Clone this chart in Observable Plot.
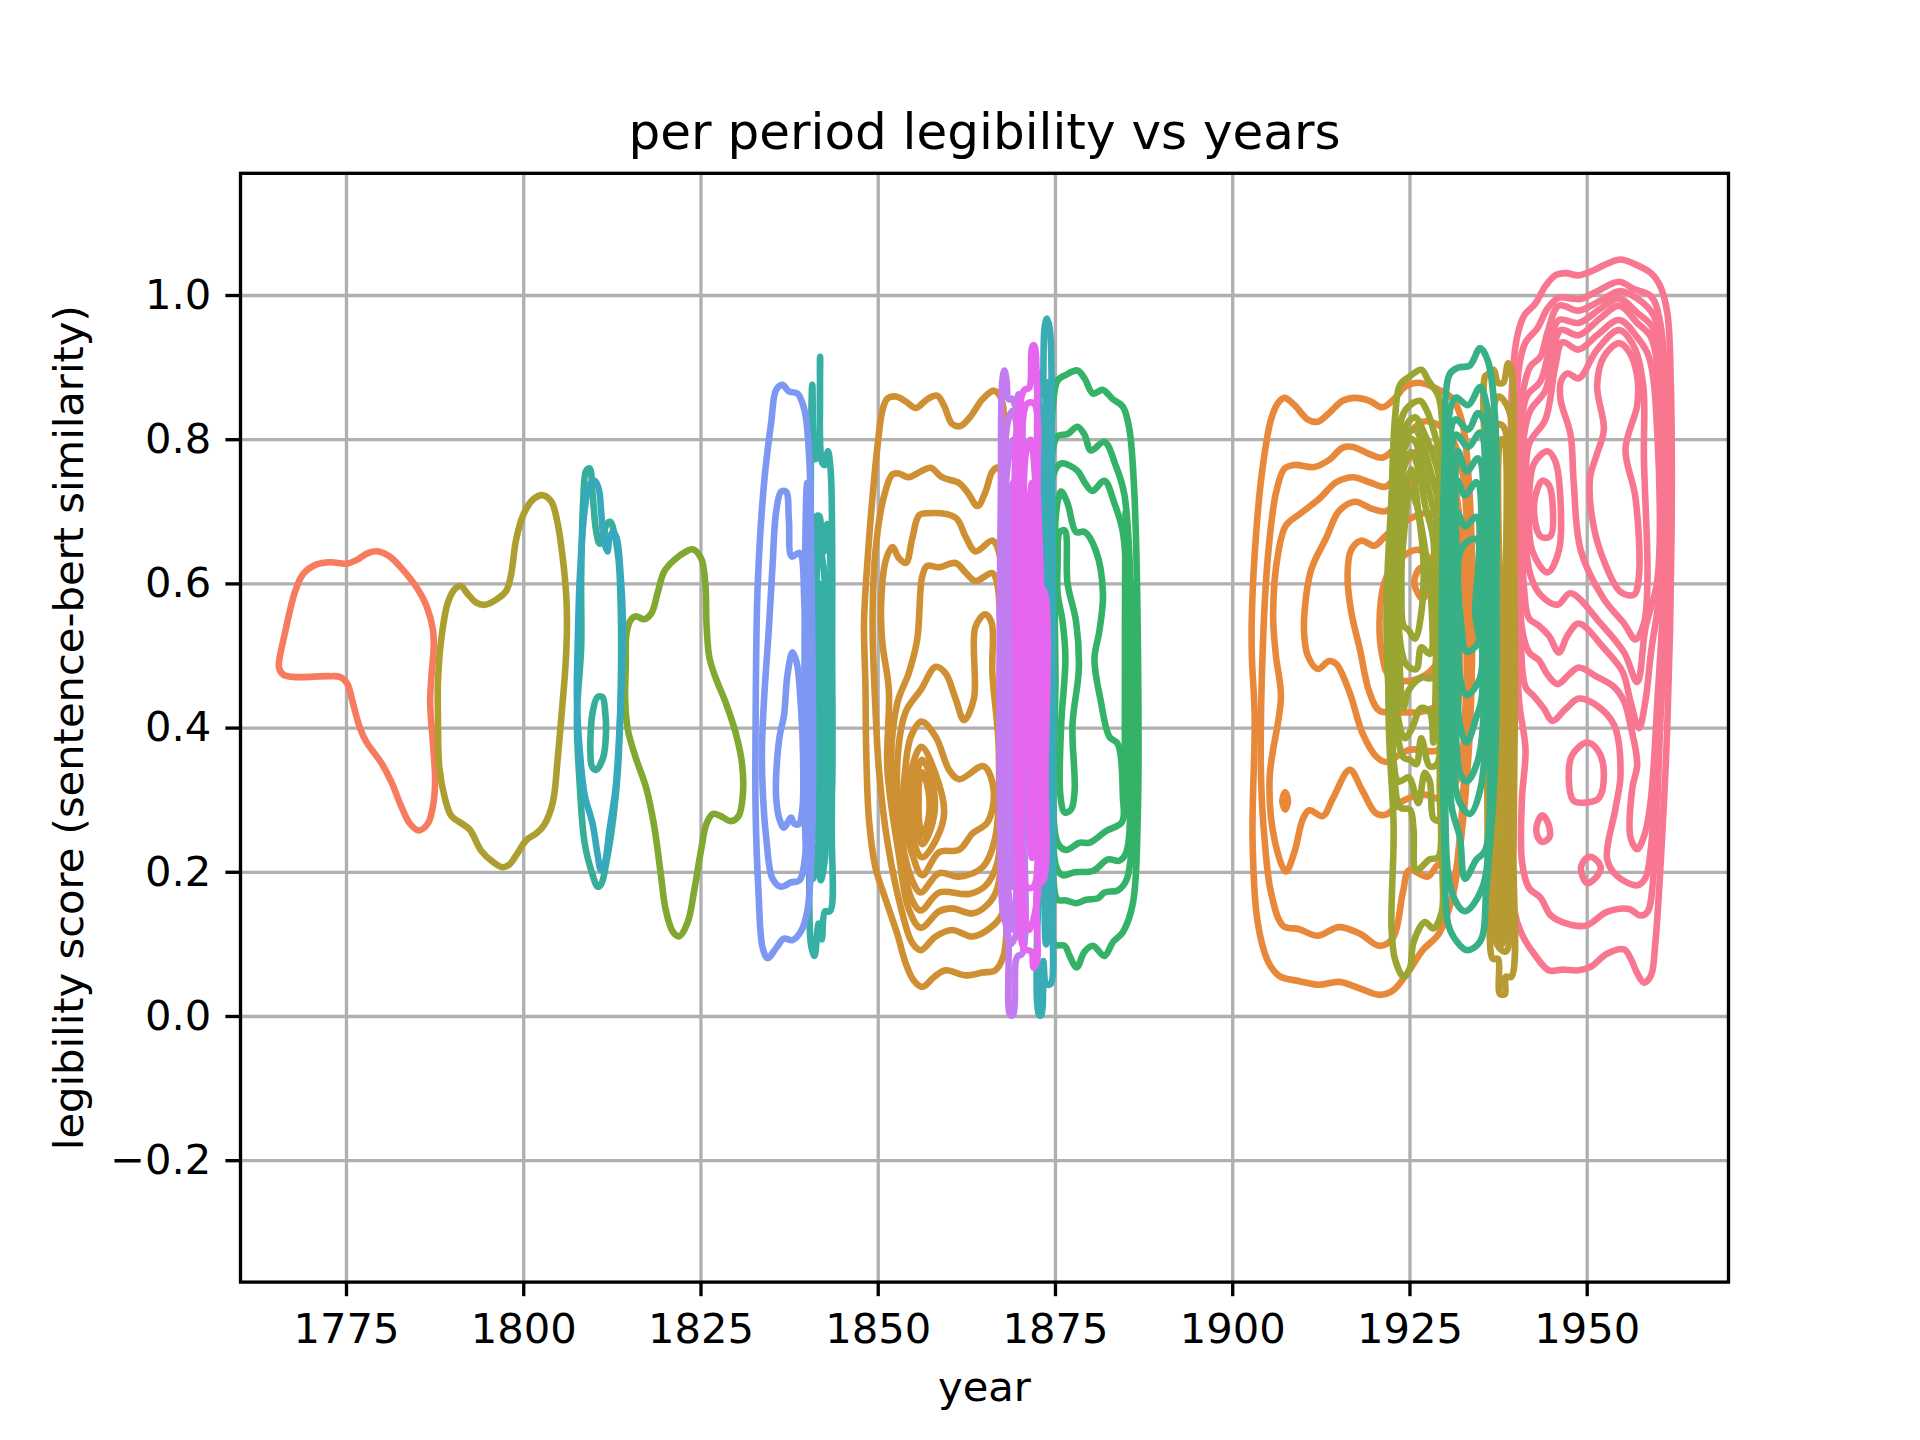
<!DOCTYPE html>
<html>
<head>
<meta charset="utf-8">
<script src="https://cdn.jsdelivr.net/npm/d3@7"></script>
<script src="https://cdn.jsdelivr.net/npm/@observablehq/plot@0.6"></script>
<style>html,body{margin:0;padding:0;background:#fff}</style>
</head>
<body>
<div id="chart"></div>
<script>
const titleText = ["per period legibility vs years"];
const xLabel = ["year"];
const yLabel = ["legibility score (sentence-bert similarity)"];
const xTicks = [1775, 1800, 1825, 1850, 1875, 1900, 1925, 1950];
const yTicks = [-0.2, 0, 0.2, 0.4, 0.6, 0.8, 1.0];

// each period: list of closed KDE contours as [year, score]
const p01 = [[[1765.5,.493],[1766.3,.531],[1767.7,.588],[1768.9,.614],[1770.8,.627],[1772.7,.630],[1775,.628],[1776.4,.633],[1778.1,.643],[1779.5,.645],[1781.1,.638],[1783,.619],[1784.9,.595],[1786.3,.569],[1787.2,.536],[1787.3,.512],[1787,.474],[1786.8,.435],[1787.2,.378],[1787.5,.326],[1787.2,.292],[1786.5,.268],[1785.2,.258],[1783.9,.268],[1782.7,.292],[1781.3,.326],[1779.9,.352],[1777.8,.381],[1776.9,.400],[1775.9,.435],[1775.1,.462],[1774.1,.471],[1772.7,.472],[1767.5,.471],[1766.1,.474],[1765.5,.483]]];

const p02 = [[[1787.9,.416],[1787.9,.464],[1788.4,.526],[1789.3,.574],[1790.3,.593],[1791.1,.597],[1792.1,.586],[1793.3,.574],[1794.5,.571],[1796.1,.578],[1797.5,.590],[1798.2,.612],[1798.9,.660],[1799.9,.695],[1801.3,.717],[1802.7,.723],[1803.9,.714],[1804.8,.683],[1805.5,.636],[1806,.583],[1806.1,.545],[1805.9,.488],[1805.4,.426],[1804.8,.359],[1804.1,.297],[1802.9,.266],[1801.8,.254],[1800.4,.245],[1798.9,.223],[1798,.211],[1797,.207],[1795.7,.214],[1794,.230],[1792.4,.259],[1791.2,.268],[1789.8,.278],[1788.9,.302],[1788.1,.345]]];

const p03 = [
[[1808.1,.512],[1808.1,.607],[1808.4,.717],[1808.8,.757],[1809.3,.760],[1809.7,.726],[1810.2,.674],[1810.7,.656],[1811.2,.660],[1811.6,.681],[1812.2,.686],[1812.8,.669],[1813.4,.631],[1813.7,.559],[1813.7,.464],[1813.3,.345],[1812.6,.273],[1811.6,.211],[1810.9,.183],[1810.4,.180],[1809.7,.197],[1808.6,.240],[1807.9,.321],[1807.5,.416]],
[[1809.4,.383],[1809.7,.421],[1810.4,.443],[1811.1,.443],[1811.5,.421],[1811.6,.393],[1811.2,.359],[1810.2,.342],[1809.6,.347],[1809.4,.369]]];

const p04 = [[[1807.6,.512],[1807.9,.607],[1808.6,.703],[1809.3,.738],[1810,.743],[1810.6,.731],[1810.9,.703],[1811.3,.660],[1811.8,.645],[1812.1,.664],[1812.6,.672],[1813.1,.664],[1813.7,.607],[1814,.536],[1813.7,.440],[1813,.321],[1812.1,.259],[1811.4,.211],[1810.9,.203],[1810.4,.226],[1809.7,.268],[1808.6,.307],[1807.9,.369],[1807.5,.440]]];

const p05 = [[[1814.4,.488],[1814.5,.531],[1815.1,.550],[1815.8,.555],[1817,.551],[1818,.559],[1818.9,.588],[1819.8,.617],[1821.2,.633],[1822.9,.645],[1823.8,.648],[1825,.636],[1825.6,.602],[1825.8,.540],[1826.2,.497],[1827.1,.469],[1828.5,.435],[1829.9,.393],[1830.8,.350],[1830.9,.307],[1830.3,.278],[1829.2,.271],[1827.8,.278],[1826.7,.281],[1825.8,.268],[1825,.230],[1824.1,.178],[1823.1,.130],[1821.9,.111],[1821,.118],[1820,.149],[1819.4,.192],[1818.4,.264],[1817.3,.316],[1815.8,.359],[1814.7,.397],[1814.3,.440]]];

const p06 = [
[[1832.7,.400],[1833,.598],[1833.9,.740],[1834.9,.824],[1835.6,.869],[1836.5,.876],[1837.4,.867],[1838.6,.864],[1839.6,.841],[1840.3,.768],[1840.6,.598],[1840.8,.429],[1840.7,.259],[1840,.146],[1839.1,.118],[1837.9,.106],[1836.7,.108],[1835.6,.095],[1834.4,.081],[1833.7,.095],[1833.1,.175],[1832.7,.288]],
[[1833.6,.372],[1833.9,.440],[1834.6,.542],[1835.1,.627],[1835.6,.700],[1836.3,.728],[1837,.728],[1837.4,.689],[1837.8,.638],[1838.9,.643],[1839.6,.570],[1840,.457],[1840.4,.344],[1839.8,.231],[1838.9,.189],[1837.7,.186],[1836.3,.180],[1835.1,.191],[1834.2,.248],[1833.7,.316]],
[[1835.6,.333],[1836.1,.389],[1836.7,.417],[1837.2,.474],[1837.9,.505],[1838.5,.491],[1839.1,.429],[1839.4,.361],[1839.3,.288],[1838.8,.267],[1838.1,.268],[1837.7,.276],[1836.7,.262],[1836,.276],[1835.6,.304]],
[[1839.6,.48],[1840,.74],[1840.3,.72],[1840.5,.48],[1840.4,.24],[1840,.2],[1839.7,.26]]];

const p07 = [
[[1840.4,.542],[1840.5,.768],[1840.7,.876],[1841.1,.773],[1841.5,.779],[1841.8,.915],[1842.1,.768],[1842.5,.765],[1842.9,.784],[1843.3,.756],[1843.5,.485],[1843.45,.259],[1843.2,.146],[1842.5,.146],[1842.04,.107],[1841.6,.129],[1841,.084],[1840.5,.101],[1840.3,.259]],
[[1841,.655],[1841.3,.694],[1841.7,.694],[1842.04,.643],[1842.5,.649],[1842.8,.683],[1843.2,.643],[1843.45,.485],[1843.3,.288],[1842.7,.265],[1842.5,.220],[1841.9,.189],[1841.4,.237],[1840.8,.191],[1840.5,.316],[1840.6,.542]],
[[1840.95,.542],[1841.4,.636],[1842.1,.630],[1842.7,.542],[1843,.400],[1842.7,.293],[1841.9,.265],[1841.3,.293],[1841,.400]],
[[1841.3,.55],[1841.5,.68],[1841.9,.65],[1842.5,.6],[1842.6,.4],[1842.4,.26],[1841.9,.22],[1841.4,.27]],
[[1841.6,.55],[1842,.6],[1842.1,.4],[1841.9,.28],[1841.6,.33]]];

const p08 = [
[[1848.0,.546],[1848.5,.634],[1849.2,.721],[1849.9,.791],[1850.6,.841],[1851.3,.857],[1852.5,.860],[1853.9,.853],[1855.3,.844],[1856.9,.856],[1858.3,.861],[1859.3,.847],[1860.4,.822],[1861.6,.819],[1863,.832],[1864.7,.856],[1866.3,.868],[1867.3,.858],[1868,.721],[1868.2,.429],[1868.2,.196],[1867.7,.085],[1866.5,.064],[1864.7,.061],[1862.3,.057],[1859.5,.064],[1857.9,.055],[1856.2,.041],[1855,.050],[1853.9,.073],[1852.7,.114],[1851.3,.155],[1849.6,.207],[1848.7,.272],[1848.3,.371],[1848.2,.458]],
[[1849.2,.546],[1849.6,.645],[1850.8,.721],[1852,.752],[1852.9,.753],[1854.3,.748],[1856,.756],[1857.4,.761],[1859,.748],[1861.4,.740],[1862.6,.727],[1864,.708],[1865.1,.727],[1866.1,.756],[1866.9,.761],[1867.9,.721],[1868.2,.488],[1868.2,.225],[1867.5,.143],[1865.8,.123],[1863.3,.111],[1860.4,.120],[1858.1,.111],[1856,.092],[1854.8,.102],[1853.4,.143],[1851.3,.242],[1850.1,.342],[1849.6,.429]],
[[1850.4,.569],[1851.1,.634],[1852,.651],[1852.9,.636],[1853.9,.629],[1854.8,.663],[1855.75,.695],[1856.9,.698],[1860.9,.692],[1862.3,.666],[1863.7,.645],[1866.1,.660],[1867,.645],[1867.7,.546],[1867.7,.312],[1866.8,.178],[1865.4,.155],[1863.3,.143],[1860.4,.150],[1858.6,.146],[1856,.123],[1854.3,.149],[1852.9,.225],[1851.3,.342],[1851.5,.453],[1850.6,.517]],
[[1856.2,.610],[1856.9,.625],[1858.6,.623],[1860.9,.629],[1862.3,.616],[1863.7,.604],[1866.1,.615],[1866.8,.599],[1867.3,.488],[1867.3,.312],[1866.8,.213],[1865.1,.181],[1862.8,.170],[1858.6,.172],[1856,.147],[1854.8,.161],[1852.9,.242],[1851.8,.342],[1852.7,.435],[1854.3,.476],[1855.5,.523]],
[[1858.1,.485],[1856,.453],[1853.9,.423],[1852.7,.353],[1853.2,.254],[1855,.184],[1856,.172],[1858.6,.199],[1861.4,.194],[1864.7,.207],[1866.5,.248],[1867,.371],[1866.1,.476],[1866,.546],[1865.1,.558],[1863.7,.540],[1863.5,.441],[1862.1,.411],[1860.9,.441],[1859.5,.476]],
[[1856.1,.409],[1858.1,.388],[1860,.342],[1861.4,.329],[1864.9,.347],[1866.3,.312],[1865.4,.269],[1863.3,.254],[1861.4,.231],[1858.6,.228],[1856.2,.196],[1854.8,.225],[1853.5,.283],[1853.8,.342],[1854.6,.388]],
[[1856.1,.374],[1858.1,.336],[1859.3,.283],[1858.3,.248],[1856.2,.221],[1855,.242],[1854.3,.301],[1854.8,.347]],
[[1856.2,.356],[1857.4,.333],[1858,.295],[1857.4,.260],[1856.2,.239],[1855.3,.260],[1855,.295],[1855.4,.336]],
[[1856.2,.339],[1856.9,.321],[1857.25,.295],[1856.9,.266],[1856.2,.251],[1855.75,.272],[1855.7,.301],[1855.75,.324]]];

const p09 = [
[[1867.1,.470],[1867.3,.731],[1867.5,.882],[1867.8,.896],[1868.1,.882],[1868.4,.856],[1868.9,.857],[1869.4,.846],[1869.8,.863],[1870.2,.843],[1870.4,.601],[1870.4,.339],[1870.3,.087],[1869.7,.084],[1869.4,.077],[1869,.002],[1868.6,.002],[1868.3,.117],[1867.6,.143],[1867.2,.274]],
[[1867.6,.5],[1867.8,.78],[1868.4,.83],[1869,.84],[1869.7,.8],[1870.1,.5],[1870.1,.2],[1869.7,.12],[1868.6,.1],[1867.7,.2]],
[[1868,.5],[1868.1,.75],[1869,.8],[1869.6,.75],[1869.7,.45],[1869.6,.2],[1869,.12],[1868.2,.2]],
[[1868.6,.5],[1868.7,.72],[1869,.74],[1869.2,.7],[1869.2,.3],[1869,.18],[1868.7,.25]]];

const p10 = [
[[1869.4,.470],[1869.5,.810],[1870.6,.869],[1871.3,.872],[1871.7,.928],[1872,.931],[1872.4,.872],[1872.7,.601],[1873.5,.587],[1873.6,.339],[1873.3,.189],[1872.5,.182],[1872.4,.077],[1871.9,.068],[1871.6,.090],[1870.6,.094],[1869.9,.143],[1869.5,.339]],
[[1870.05,.5],[1870.2,.8],[1871,.85],[1872,.85],[1872.5,.72],[1873,.58],[1873.1,.3],[1872.4,.16],[1871.3,.12],[1870.2,.18]],
[[1870.7,.5],[1870.8,.78],[1871.5,.8],[1872.1,.75],[1872.5,.55],[1872.55,.28],[1871.9,.18],[1870.9,.18]],
[[1871.3,.5],[1871.4,.72],[1871.7,.74],[1871.95,.6],[1872,.3],[1871.7,.22],[1871.4,.25]]];

const p11 = [
[[1873,.601],[1872.8,.892],[1873.2,.862],[1873.45,.954],[1873.8,.968],[1874.2,.954],[1874.5,.797],[1874.7,.470],[1874.6,.143],[1874.3,.045],[1873.7,.045],[1873.3,.077],[1873,.002],[1872.7,.002],[1872.4,.110],[1872.75,.182],[1873,.339]],
[[1873.5,.5],[1873.6,.85],[1874,.88],[1874.4,.7],[1874.5,.3],[1874.2,.12],[1873.7,.1],[1873.5,.25]],
[[1873.9,.5],[1874,.7],[1874.1,.5],[1874.1,.25],[1873.95,.2]]];

const p12 = [
[[1874.6,.843],[1875.3,.882],[1876.5,.890],[1878.1,.896],[1879.1,.885],[1880.3,.864],[1881.7,.869],[1883.1,.856],[1884.5,.846],[1885.4,.816],[1886.1,.731],[1886.6,.535],[1886.6,.274],[1885.9,.156],[1884.5,.117],[1883.1,.103],[1881.9,.084],[1880.3,.098],[1879.1,.090],[1878,.068],[1877,.084],[1876.3,.098],[1874.9,.100],[1874.4,.143]],
[[1874.6,.784],[1875.3,.805],[1876.7,.808],[1878.1,.818],[1879.1,.807],[1880,.785],[1881.9,.797],[1883.5,.764],[1884.7,.725],[1885.6,.601],[1886.1,.404],[1885.9,.254],[1885,.189],[1883.8,.175],[1881.9,.172],[1881,.164],[1879.3,.162],[1878,.157],[1876.5,.161],[1875.3,.162],[1874.7,.189],[1874.5,.470]],
[[1874.7,.751],[1875.8,.767],[1878.1,.757],[1879.1,.741],[1880.2,.729],[1881.9,.743],[1883.3,.712],[1884.5,.672],[1885.3,.535],[1885.5,.372],[1885,.228],[1884,.216],[1882.4,.218],[1880.3,.202],[1877.7,.200],[1876,.196],[1875.1,.208],[1874.9,.470]],
[[1875.1,.699],[1875.8,.728],[1876.7,.712],[1877.9,.672],[1879.1,.672],[1880.7,.646],[1881.7,.587],[1881.2,.535],[1880.5,.496],[1881.4,.437],[1882.6,.388],[1883.8,.378],[1884.5,.306],[1884.4,.270],[1882.1,.257],[1879.8,.241],[1878.4,.241],[1876.5,.231],[1875.3,.241],[1875,.470]],
[[1875.3,.627],[1875.6,.672],[1876.3,.674],[1876.7,.601],[1877.9,.548],[1878.3,.483],[1877.4,.404],[1877.7,.313],[1877.2,.287],[1876.3,.283],[1875.7,.306],[1875.8,.404],[1876.4,.496],[1876,.548],[1875.3,.587]],
[[1884.9,.7],[1885.1,.5],[1885.1,.3],[1884.9,.28],[1884.8,.5]]];

const p13 = [
[[1902.7,.557],[1903.3,.670],[1904.2,.760],[1905.4,.828],[1906.4,.851],[1907.3,.858],[1908.7,.848],[1910.6,.828],[1912,.825],[1913.6,.837],[1915.5,.854],[1917.2,.858],[1919.3,.854],[1921.1,.845],[1922.8,.857],[1924.4,.874],[1926.3,.879],[1928.7,.871],[1931,.857],[1932.4,.823],[1933.4,.726],[1933.8,.557],[1933.4,.387],[1932.2,.245],[1931,.166],[1929.1,.115],[1926.8,.092],[1924.9,.064],[1922.6,.036],[1920.7,.030],[1917.9,.039],[1915,.048],[1912.2,.044],[1909.4,.049],[1906.6,.056],[1905,.076],[1903.5,.132],[1902.8,.245],[1903.1,.415],[1902.7,.500]],
[[1904.2,.500],[1905,.642],[1906.1,.726],[1907.3,.760],[1908.7,.765],[1911.5,.762],[1913.6,.772],[1915.5,.789],[1917,.790],[1919.3,.780],[1921.1,.775],[1923,.789],[1926.8,.825],[1929.1,.820],[1931,.800],[1932.4,.755],[1933.1,.670],[1933.4,.557],[1932.9,.387],[1932,.245],[1931,.194],[1929.1,.211],[1927.5,.194],[1924.9,.203],[1924,.172],[1922.6,.109],[1920.7,.098],[1917.9,.115],[1915,.124],[1912,.112],[1909.4,.121],[1907.1,.126],[1905.4,.172],[1904.5,.245],[1904,.330]],
[[1905.7,.557],[1906.4,.642],[1907.5,.681],[1909.6,.698],[1912.2,.718],[1914.6,.741],[1917,.748],[1919.3,.741],[1921.6,.735],[1924.4,.769],[1926.8,.789],[1929.1,.783],[1931,.749],[1932.2,.670],[1932.9,.557],[1932.9,.443],[1931.7,.330],[1929.6,.302],[1926.8,.308],[1924,.299],[1921.6,.280],[1920.2,.282],[1918.3,.313],[1916.5,.342],[1914.1,.302],[1912.7,.278],[1910.8,.286],[1909.9,.274],[1908.7,.228],[1907.5,.201],[1905.9,.245],[1905.2,.330],[1906.8,.443],[1906.1,.500]],
[[1910.1,.557],[1911.05,.619],[1913.2,.664],[1915,.701],[1917.2,.714],[1919.7,.704],[1921.6,.701],[1924.4,.726],[1926.8,.749],[1930.1,.726],[1931.5,.642],[1932,.528],[1931.5,.415],[1929.1,.370],[1924.9,.370],[1921.6,.353],[1920.2,.361],[1918.3,.393],[1916.5,.449],[1914.6,.489],[1913.6,.493],[1912,.482],[1910.6,.500],[1910.1,.528]],
[[1916.2,.613],[1916.7,.647],[1918.1,.660],[1920,.653],[1921.6,.667],[1924.4,.687],[1927.2,.698],[1930.1,.681],[1931,.613],[1931,.528],[1930.1,.443],[1927.2,.424],[1923,.422],[1920.7,.424],[1919.3,.449],[1917.9,.511],[1916.7,.562]],
[[1920.7,.545],[1921.4,.602],[1923,.630],[1926.3,.647],[1928.7,.613],[1929.1,.557],[1928.7,.489],[1925.4,.466],[1922.1,.472],[1921.1,.500]],
[[1925.6,.602],[1926.5,.622],[1927.7,.602],[1926.8,.579]],
[[1907.4,.311],[1907.8,.299],[1907.4,.287],[1907,.299]]];

const p14 = [
[[1922.4,.710],[1922.9,.831],[1923.6,.876],[1925,.888],[1926.6,.897],[1927.6,.882],[1929,.861],[1929.5,.831],[1929.6,.590],[1929.5,.350],[1929.6,.200],[1929.5,.146],[1928.3,.122],[1927.1,.131],[1925.5,.103],[1925,.067],[1924.1,.055],[1922.9,.079],[1922.4,.122],[1922.7,.260],[1922,.410]],
[[1922,.650],[1923.4,.813],[1924.5,.843],[1926.4,.854],[1927.4,.840],[1928.5,.807],[1929.3,.771],[1929.3,.530],[1929.2,.320],[1929,.221],[1927.8,.218],[1925.9,.203],[1925.5,.260],[1925,.287],[1923.6,.290],[1922.7,.350],[1921.7,.530]],
[[1922.2,.590],[1922.9,.741],[1924.1,.813],[1925.7,.831],[1927.1,.807],[1928.5,.771],[1929.1,.747],[1929.1,.470],[1929,.272],[1928.3,.275],[1927.8,.326],[1927.1,.338],[1926.2,.296],[1925.2,.326],[1924.8,.332],[1923.4,.326],[1922.4,.410]],
[[1922.4,.620],[1923.4,.771],[1924.5,.807],[1925.7,.814],[1927.1,.783],[1928.3,.741],[1929,.711],[1929,.500],[1928.8,.350],[1927.8,.347],[1926.6,.386],[1925.9,.350],[1925,.356],[1924.1,.359],[1922.75,.440]],
[[1922.9,.650],[1923.8,.771],[1925,.801],[1925.7,.798],[1926.9,.759],[1928.1,.711],[1928.8,.680],[1928.7,.500],[1928.3,.380],[1927.8,.422],[1926.6,.428],[1925.2,.398],[1924.3,.386],[1923.4,.410]],
[[1923.4,.650],[1924.1,.759],[1925.2,.783],[1926.2,.759],[1927.1,.711],[1928.3,.662],[1928.3,.590],[1928.2,.470],[1926.6,.470],[1924.8,.452],[1924.1,.428],[1923.4,.530]],
[[1923.8,.590],[1924.3,.723],[1925.2,.759],[1926.2,.699],[1926.9,.632],[1926.6,.560],[1925.7,.524],[1924.8,.536],[1924.1,.542]],
[[1923.4,.542],[1924.1,.662],[1925,.729],[1925.9,.711],[1927.1,.650],[1928,.578],[1927.8,.503],[1926.6,.512],[1925.9,.482],[1924.5,.488]]];

const p15 = [
[[1929.9,.771],[1930.6,.891],[1931.8,.900],[1933.45,.903],[1934.9,.927],[1936,.909],[1937,.831],[1937.2,.590],[1937,.350],[1935.8,.182],[1934.9,.104],[1933,.092],[1931.6,.104],[1930.4,.128],[1929.9,.230],[1929.5,.530]],
[[1931.4,.858],[1933.2,.848],[1934.9,.873],[1935.8,.849],[1936.5,.711],[1936.7,.470],[1936.3,.260],[1935.1,.176],[1932.75,.146],[1930.9,.173],[1929.9,.350],[1929.9,.650]],
[[1931.4,.828],[1933.2,.814],[1934.6,.837],[1935.6,.822],[1936.2,.650],[1936.3,.410],[1935.6,.230],[1934.4,.218],[1932.75,.191],[1932.05,.248],[1930.9,.290],[1930.4,.410],[1930.4,.650]],
[[1931.5,.807],[1933.2,.790],[1934.9,.810],[1935.8,.711],[1935.9,.470],[1934.9,.314],[1933.45,.281],[1932.05,.296],[1931.1,.350],[1930.9,.590]],
[[1931.8,.784],[1933,.756],[1934.6,.774],[1935.6,.650],[1935.6,.470],[1934.6,.356],[1933,.326],[1932.05,.338],[1931.4,.470],[1931.4,.650]],
[[1931.6,.744],[1932.75,.723],[1934.4,.741],[1935.1,.590],[1935.1,.440],[1934.4,.416],[1933,.380],[1932.05,.404],[1931.6,.530]],
[[1931.7,.699],[1932.75,.680],[1934.4,.693],[1934.6,.590],[1934.9,.470],[1933,.446],[1932.05,.470],[1931.8,.590]],
[[1934.4,.662],[1934.2,.560],[1934.6,.518],[1933,.506],[1932.3,.536],[1932.3,.650]]];

const p16 = [
[[1935.8,.711],[1935.6,.888],[1936,.891],[1936.8,.897],[1937.4,.879],[1938.15,.879],[1938.85,.906],[1939.3,.897],[1939.65,.711],[1939.8,.470],[1939.6,.230],[1939.3,.055],[1938.5,.055],[1938.4,.031],[1937.7,.031],[1937.4,.080],[1936.7,.080],[1936.2,.122],[1935.9,.350]],
[[1936.5,.5],[1936.7,.84],[1937.5,.86],[1939,.84],[1939.25,.6],[1939.3,.4],[1939.2,.12],[1938.5,.09],[1937.3,.1],[1936.6,.2]],
[[1937.2,.5],[1937.3,.82],[1938,.82],[1938.75,.8],[1938.85,.5],[1938.75,.14],[1938,.1],[1937.3,.15]],
[[1937.8,.5],[1937.85,.8],[1938.2,.8],[1938.35,.5],[1938.3,.15],[1938,.1],[1937.8,.15]]];

const p17 = [
[[1939.4,.875],[1940.1,.942],[1941.1,.972],[1942.7,.989],[1944.1,1.013],[1945.5,1.028],[1947,1.031],[1948.8,1.028],[1950.9,1.035],[1952.8,1.044],[1954.7,1.050],[1956.6,1.044],[1959,1.031],[1960.3,1.013],[1961.3,.976],[1961.8,.875],[1961.9,.673],[1961.3,.404],[1960.3,.202],[1959.6,.101],[1959,.057],[1958,.047],[1957.05,.060],[1956.1,.081],[1955.2,.093],[1952.8,.087],[1950.5,.069],[1948.8,.064],[1946.5,.065],[1944.6,.064],[1942.5,.087],[1940.8,.114],[1939.7,.148],[1939.4,.404],[1939.2,.673]],
[[1940.0,.841],[1940.4,.902],[1941.3,.935],[1943,.955],[1944.4,.982],[1946,.997],[1947.65,.996],[1949.1,.995],[1951.4,1.006],[1954.5,1.019],[1956.6,1.009],[1959,.999],[1960.3,.962],[1961.3,.807],[1961.3,.606],[1960.3,.404],[1959.4,.202],[1958.5,.145],[1957.5,.140],[1955.9,.149],[1952.8,.145],[1949.8,.126],[1946.5,.131],[1944.8,.141],[1943.4,.165],[1941.8,.178],[1940.8,.215],[1940.8,.303],[1941.3,.370],[1940.4,.437],[1939.8,.606]],
[[1940.4,.740],[1940.4,.821],[1941.1,.875],[1942,.902],[1943.4,.915],[1944.4,.949],[1946,.986],[1948.8,.979],[1951.9,.993],[1954.5,1.006],[1957.05,.996],[1959.4,.972],[1960.8,.875],[1961.05,.606],[1960.1,.404],[1959,.235],[1958.2,.192],[1957.05,.182],[1954.2,.195],[1952.8,.219],[1954,.289],[1954.7,.336],[1953.8,.404],[1951.4,.431],[1948.8,.441],[1947,.427],[1945.1,.410],[1943.9,.427],[1942.5,.444],[1941.3,.457],[1940.6,.525],[1940.1,.639]],
[[1940.6,.740],[1940.8,.828],[1941.5,.861],[1943.4,.881],[1944.6,.922],[1946,.966],[1948.8,.962],[1951.9,.982],[1954.5,.996],[1957.05,.976],[1959.2,.956],[1960.6,.875],[1960.8,.606],[1959.9,.437],[1959,.303],[1958.2,.256],[1957.05,.232],[1956.1,.249],[1956.35,.316],[1957.05,.350],[1956.1,.404],[1955.2,.437],[1953.8,.457],[1951.4,.471],[1948.8,.484],[1947.4,.474],[1945.8,.461],[1944.4,.474],[1943.2,.494],[1941.8,.505],[1940.8,.538],[1940.5,.639]],
[[1940.8,.707],[1941.1,.807],[1942,.841],[1944.1,.868],[1945.1,.915],[1946.25,.952],[1948.8,.945],[1951.9,.969],[1954.5,.986],[1957.05,.962],[1959,.942],[1960.3,.841],[1960.4,.606],[1959,.505],[1958.2,.437],[1957.3,.400],[1956.1,.437],[1955,.478],[1952.35,.511],[1948.8,.545],[1947.2,.528],[1946,.505],[1944.6,.528],[1943.2,.542],[1941.8,.552],[1941.1,.592]],
[[1941.3,.707],[1941.8,.794],[1944.1,.828],[1945.5,.902],[1946.5,.935],[1948.8,.925],[1951.4,.945],[1954.5,.966],[1957.05,.942],[1958.7,.915],[1959.9,.807],[1959.9,.606],[1958.2,.538],[1957.05,.464],[1955.2,.505],[1951.9,.545],[1947.65,.587],[1945.8,.571],[1943.4,.585],[1942,.612],[1941.3,.659]],
[[1947.2,.892],[1948.8,.885],[1951.4,.925],[1954.5,.952],[1956.6,.929],[1957.9,.875],[1958,.774],[1958.5,.606],[1958,.545],[1956.8,.523],[1955.2,.545],[1952.35,.579],[1949.1,.646],[1948.1,.740],[1947.65,.807],[1946.25,.855],[1946.3,.881]],
[[1954.5,.934],[1952.35,.915],[1951.4,.875],[1952.35,.814],[1951.4,.781],[1950.4,.747],[1950.9,.680],[1952.6,.626],[1954.7,.589],[1956.6,.585],[1957.3,.612],[1956.8,.720],[1955.4,.787],[1957.05,.848],[1957.05,.888],[1955.9,.922]],
[[1944.4,.784],[1942.5,.767],[1941.8,.713],[1942.25,.646],[1944.4,.616],[1946,.646],[1946.25,.713],[1945.5,.770]],
[[1943.65,.743],[1942.5,.710],[1943.4,.666],[1944.8,.666],[1945.1,.713],[1944.6,.737]],
[[1947.9,.363],[1947.4,.336],[1948.1,.299],[1950,.297],[1951.65,.303],[1952.35,.336],[1951.65,.367],[1950,.380]],
[[1943,.269],[1942.9,.252],[1943.65,.242],[1944.7,.249],[1944.45,.269],[1943.65,.279]],
[[1949.1,.205],[1950,.185],[1951.4,.195],[1951.9,.208],[1950.7,.221],[1949.8,.219]]];

// drawn in palette (hue) order, which decides what overlaps what
const periods = ["p17","p01","p13","p08","p16","p02","p14","p05","p12","p15","p03","p07","p11","p04","p06","p09","p10"];
const periodContours = [p17,p01,p13,p08,p16,p02,p14,p05,p12,p15,p03,p07,p11,p04,p06,p09,p10];
const periodColors = ["#f87690","#f77c5f","#e8883a","#ce9032","#b89a32","#ad9f2f","#9aa532","#81a932","#34b267","#36b084","#36ae99","#36afa4","#39acb6","#37a9bf","#7c98f2","#c27cf0","#e666f0"];

const rows = periods.flatMap((period, i) =>
  periodContours[i].flatMap((contour, j) =>
    contour.map(([year, score]) => ({year, score, period, contour: period + "-" + j}))));

const chart = Plot.plot({
  width: 1920,
  height: 1440,
  marginLeft: 240,
  marginRight: 192,
  marginTop: 172.8,
  marginBottom: 158.4,
  style: {fontFamily: "'DejaVu Sans'", background: "#fff", color: "#000"},
  x: {domain: [1760.05, 1969.93]},
  y: {domain: [-0.3684, 1.1695]},
  color: {type: "ordinal", domain: periods, range: periodColors},
  marks: [
    Plot.gridX(xTicks, {stroke: "#b0b0b0", strokeOpacity: 1, strokeWidth: 3.33}),
    Plot.gridY(yTicks, {stroke: "#b0b0b0", strokeOpacity: 1, strokeWidth: 3.33}),
    Plot.line(rows, {x: "year", y: "score", z: "contour", stroke: "period", strokeWidth: 6.6, curve: "catmull-rom-closed", strokeLinejoin: "round"}),
    Plot.frame({stroke: "#000", strokeWidth: 3.33}),
    Plot.axisX(xTicks, {tickSize: 14.6, tickPadding: 16.6, fontSize: 41.67, strokeWidth: 3.33, label: null, tickFormat: d => String(d)}),
    Plot.axisY(yTicks, {tickSize: 14.6, tickPadding: 14.6, fontSize: 41.67, strokeWidth: 3.33, label: null, tickFormat: ".1f"}),
    Plot.text(titleText, {frameAnchor: "top", dy: -40, fontSize: 50, lineAnchor: "middle", textAnchor: "middle"}),
    Plot.text(xLabel, {frameAnchor: "bottom", dy: 106, fontSize: 41.67, lineAnchor: "middle", textAnchor: "middle"}),
    Plot.text(yLabel, {frameAnchor: "left", dx: -171, rotate: -90, fontSize: 41.67, lineAnchor: "middle", textAnchor: "middle"})
  ]
});
document.getElementById("chart").appendChild(chart);
</script>
</body>
</html>
